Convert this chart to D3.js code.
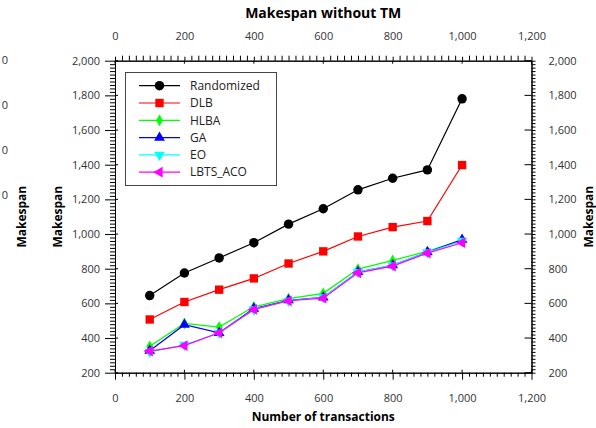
<!DOCTYPE html>
<html><head><meta charset="utf-8">
<script src="https://cdn.jsdelivr.net/npm/d3@7"></script>
<style>
html,body{margin:0;padding:0;background:#fff;}
svg{display:block;font-family:"Open Sans",sans-serif;}
</style></head>
<body>
<svg id="c" width="596" height="428"></svg>
<script>
const transactions = [100,200,300,400,500,600,700,800,900,1000];
const randomized = [645,775,862,950,1057,1146,1255,1322,1370,1780];
const dlb        = [507,608,679,744,830,900,986,1040,1075,1398];
const hlba       = [352,484,463,580,627,658,798,848,900,965];
const ga         = [327,477,430,570,618,634,781,820,895,968];
const eo         = [320,360,430,565,615,635,780,820,895,960];
const lbtsAco    = [325,356,430,565,615,630,776,815,890,950];
const seriesNames = ["Randomized","DLB","HLBA","GA","EO","LBTS_ACO"];
const xTicks = [0,200,400,600,800,1000,1200];
const yTicks = [200,400,600,800,1000,1200,1400,1600,1800,2000];
const ghostLabels = ["0","0","0","0"];

const colors = ["#000000","#ff0000","#00ff00","#0000ff","#00ffff","#ff00ff"];
const allValues = [randomized,dlb,hlba,ga,eo,lbtsAco];

const svg = d3.select("#c");
const L=115, R=531.5, T=60.7, B=372.7;
const x = d3.scaleLinear().domain([0,1200]).range([L,R]);
const y = d3.scaleLinear().domain([200,2000]).range([B,T]);

const xMinor = d3.range(0,1201,20).filter(v=>v%200!==0);
const yMinor = d3.range(200,2001,20).filter(v=>v%200!==0);
const fmt = d3.format(",");

function style(g){
  g.selectAll("path").attr("stroke","#000").attr("stroke-width",1);
  g.selectAll("line").attr("stroke","#000").attr("stroke-width",1);
  g.selectAll("text").attr("font-size",11).attr("fill","#333").attr("font-family","Open Sans");
}
// Left
svg.append("g").attr("transform",`translate(${L},0)`)
  .call(d3.axisLeft(y).tickValues(yMinor).tickSize(5).tickSizeOuter(0).tickFormat("")).call(style);
svg.append("g").attr("transform",`translate(${L},0)`)
  .call(d3.axisLeft(y).tickValues(yTicks).tickSize(10).tickSizeOuter(0).tickPadding(5).tickFormat(fmt)).call(style);
// Right
svg.append("g").attr("transform",`translate(${R},0)`)
  .call(d3.axisRight(y).tickValues(yMinor).tickSize(4).tickSizeOuter(0).tickFormat("")).call(style);
svg.append("g").attr("transform",`translate(${R},0)`)
  .call(d3.axisRight(y).tickValues(yTicks).tickSize(4).tickSizeOuter(0).tickPadding(13).tickFormat(fmt)).call(style);
// Bottom
svg.append("g").attr("transform",`translate(0,${B})`)
  .call(d3.axisBottom(x).tickValues(xMinor).tickSize(4).tickSizeOuter(0).tickFormat("")).call(style);
svg.append("g").attr("transform",`translate(0,${B})`)
  .call(d3.axisBottom(x).tickValues(xTicks).tickSize(7).tickSizeOuter(0).tickPadding(14.5).tickFormat(fmt)).call(style);
// Top
svg.append("g").attr("transform",`translate(0,${T})`)
  .call(d3.axisTop(x).tickValues(xMinor).tickSize(5).tickSizeOuter(0).tickFormat("")).call(style);
svg.append("g").attr("transform",`translate(0,${T})`)
  .call(d3.axisTop(x).tickValues(xTicks).tickSize(4).tickSizeOuter(0).tickPadding(16.7).tickFormat(fmt)).call(style);

// inner parts of major ticks
const inner = svg.append("g").attr("stroke","#000").attr("stroke-width",1);
yTicks.forEach(v=>{
  inner.append("line").attr("x1",L).attr("x2",L+3).attr("y1",y(v)).attr("y2",y(v));
  inner.append("line").attr("x1",R-7).attr("x2",R).attr("y1",y(v)).attr("y2",y(v));
});
xTicks.forEach(v=>{
  inner.append("line").attr("x1",x(v)).attr("x2",x(v)).attr("y1",B-3).attr("y2",B);
  inner.append("line").attr("x1",x(v)).attr("x2",x(v)).attr("y1",T).attr("y2",T+3);
});

// Ghost labels on left
ghostLabels.forEach((t,i)=>{
  svg.append("text").attr("x",8).attr("y",60+i*45).attr("dy","0.35em")
    .attr("text-anchor","end").attr("font-size",11).attr("fill","#333").text(t);
});

// Titles
svg.append("text").attr("x",(L+R)/2).attr("y",18).attr("text-anchor","middle")
  .attr("font-size",14).attr("font-weight","bold").attr("fill","#000").text("Makespan without TM");
svg.append("text").attr("x",(L+R)/2).attr("y",421).attr("text-anchor","middle")
  .attr("font-size",12).attr("font-weight","bold").attr("fill","#000").text("Number of transactions");
[26,62,592.5].forEach(bx=>{
  svg.append("text").attr("transform",`translate(${bx},${(T+B)/2}) rotate(-90)`)
    .attr("text-anchor","middle").attr("font-size",12).attr("font-weight","bold").attr("fill","#000").text("Makespan");
});

// Symbols
const symDefs = [
  {t:d3.symbolCircle,s:70,r:0},
  {t:d3.symbolSquare,s:70,r:0},
  {t:d3.symbolDiamond,s:40,r:0},
  {t:d3.symbolTriangle,s:50,r:0},
  {t:d3.symbolTriangle,s:50,r:180},
  {t:d3.symbolTriangle,s:50,r:-90}
];

const line = d3.line().x((d,i)=>x(transactions[i])).y(d=>y(d));
allValues.forEach((vals,si)=>{
  const g = svg.append("g");
  g.append("path").attr("d",line(vals)).attr("fill","none").attr("stroke",colors[si]).attr("stroke-width",1.2);
  g.selectAll("path.m").data(vals).join("path").attr("class","m")
    .attr("transform",(d,i)=>`translate(${x(transactions[i])},${y(d)}) rotate(${symDefs[si].r})`)
    .attr("d",d3.symbol().type(symDefs[si].t).size(symDefs[si].s)).attr("fill",colors[si]);
});

// Legend
const lg = svg.append("g");
lg.append("rect").attr("x",125.5).attr("y",72.5).attr("width",151).attr("height",113)
  .attr("fill","#fff").attr("stroke","#444").attr("stroke-width",1);
seriesNames.forEach((n,i)=>{
  const cy = 85.7 + i*17.3;
  lg.append("line").attr("x1",139).attr("x2",180).attr("y1",cy).attr("y2",cy).attr("stroke",colors[i]).attr("stroke-width",1.2);
  lg.append("path").attr("transform",`translate(159.5,${cy}) rotate(${symDefs[i].r})`)
    .attr("d",d3.symbol().type(symDefs[i].t).size(symDefs[i].s)).attr("fill",colors[i]);
  lg.append("text").attr("x",190).attr("y",cy).attr("dy","0.35em").attr("font-size",12).attr("fill","#222").text(n);
});
</script>
</body></html>
